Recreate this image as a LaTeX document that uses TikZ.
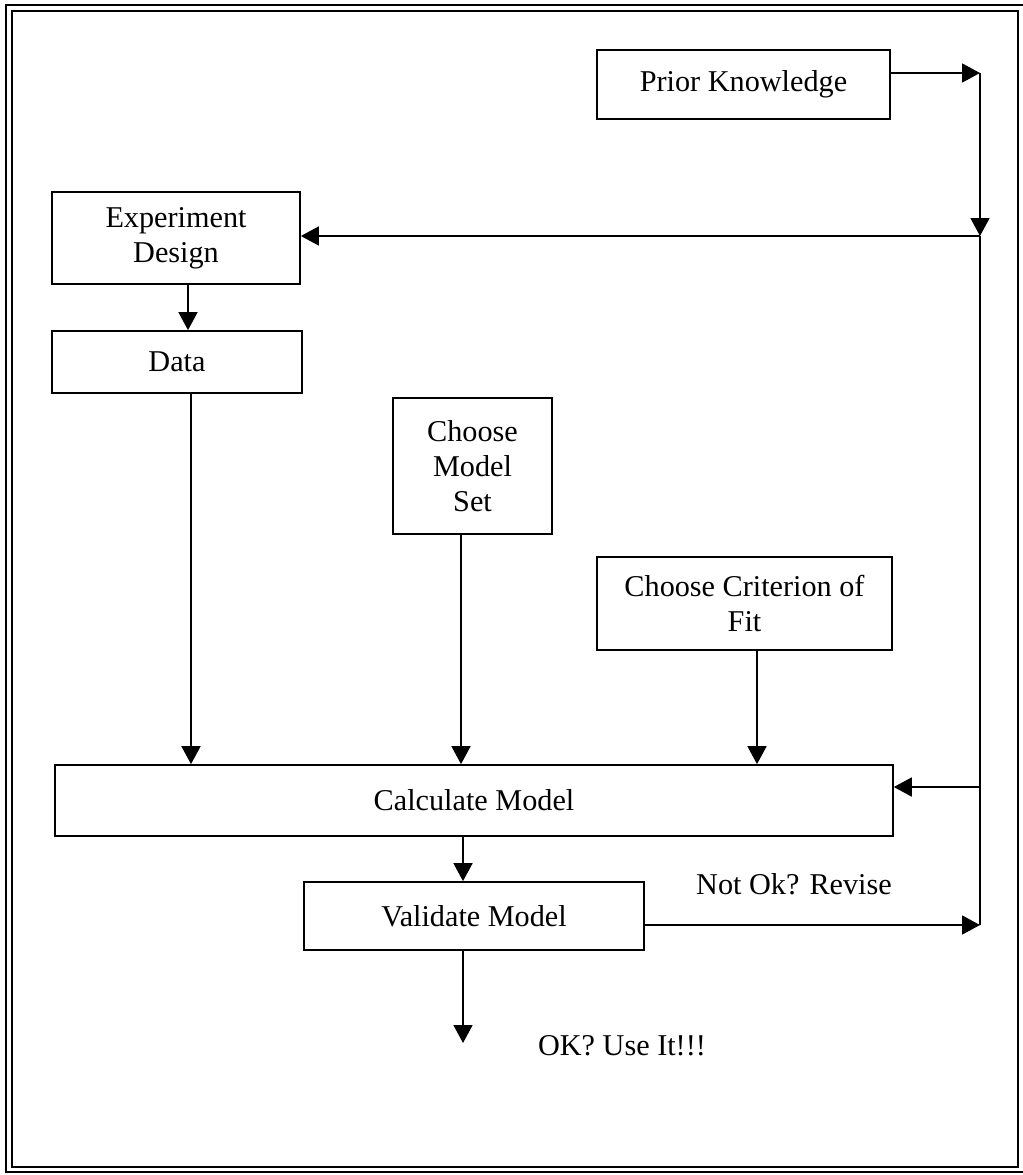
\documentclass[tikz,border=0pt]{standalone}
\usepackage{fontspec}
\setmainfont{Liberation Serif}
\usetikzlibrary{arrows.meta}
\begin{document}
\begin{tikzpicture}[x=0.02cm, y=-0.02cm,
  every node/.style={font=\fontsize{17.2pt}{20pt}\selectfont},
  box/.style={draw, line width=1pt, inner sep=0pt, align=center},
  arr/.style={line width=1pt, -{Triangle[length=0.36cm, width=0.38cm]}},
  wire/.style={line width=1pt},
  frame/.style={line width=1.3pt}]
  \useasboundingbox (0,0) rectangle (1022,1175);

  % double page frame
  \draw[frame] (6,5) rectangle (1026,1172);
  \draw[frame] (12,11) rectangle (1018,1167);

  % process boxes
  \node[box, minimum width=5.86cm, minimum height=1.38cm] (pk)   at (743.5,84.5) {Prior Knowledge};
  \node[box, minimum width=4.96cm, minimum height=1.84cm] (ed)   at (176,238)    {Experiment\\Design};
  \node[box, minimum width=5.0cm,  minimum height=1.24cm] (data) at (177,362)    {Data};
  \node[box, minimum width=3.18cm, minimum height=2.72cm] (cms)  at (472.5,466)  {Choose\\Model\\Set};
  \node[box, minimum width=5.9cm,  minimum height=1.86cm] (ccf)  at (744.5,603.5) {Choose Criterion of\\Fit};
  \node[box, minimum width=16.76cm, minimum height=1.42cm] (calc) at (474,800.5) {Calculate Model};
  \node[box, minimum width=6.8cm,  minimum height=1.36cm] (val)  at (474,916)    {Validate Model};

  % labels on the outgoing branches
  \node (revise) at (794,884)  {Not Ok? Revise};
  \node (useit)  at (622,1046) {OK? Use It!!!};

  % feedback bus on the right
  \coordinate (c1)  at (980,73);
  \coordinate (j1)  at (980,236);
  \coordinate (j2)  at (980,787);
  \coordinate (j3)  at (980,925);
  \coordinate (out) at (463,1043);

  \draw[arr] (pk.east |- c1) -- (c1);
  \draw[arr] (c1) -- (j1);
  \draw[wire] (j1) -- (j3);
  \draw[arr] (j1) -- (ed.east |- j1);
  \draw[arr] (j2) -- (calc.east |- j2);
  \draw[arr] (val.east |- j3) -- (j3);

  % main flow
  \draw[arr] ([xshift=0.24cm]ed.south) -- ([xshift=0.24cm]ed.south |- data.north);
  \draw[arr] ([xshift=0.28cm]data.south) -- ([xshift=0.28cm]data.south |- calc.north);
  \draw[arr] ([xshift=-0.23cm]cms.south) -- ([xshift=-0.23cm]cms.south |- calc.north);
  \draw[arr] ([xshift=0.25cm]ccf.south) -- ([xshift=0.25cm]ccf.south |- calc.north);
  \draw[arr] ([xshift=-0.22cm]calc.south) -- ([xshift=-0.22cm]calc.south |- val.north);
  \draw[arr] (val.south -| out) -- (out);
\end{tikzpicture}
\end{document}
